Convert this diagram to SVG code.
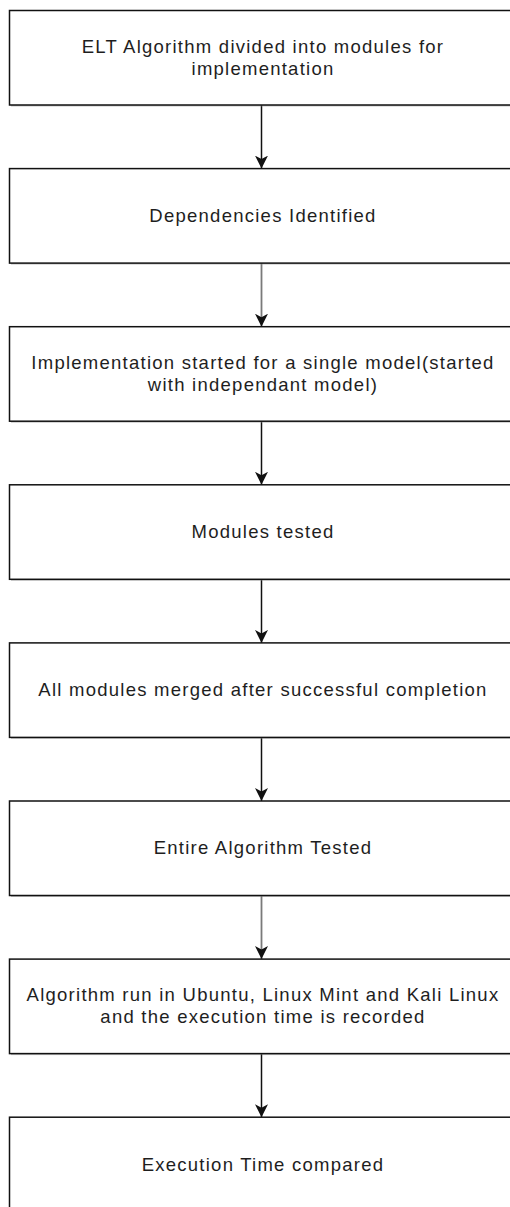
<svg xmlns="http://www.w3.org/2000/svg" width="510" height="1207" viewBox="0 0 510 1207">
  <style>
    .box { fill: #ffffff; stroke: #111111; stroke-width: 1.5; }
    .shadow { fill: #8c8c8c; opacity: 0.5; }
    .lbl { font-family: "Liberation Sans", Arial, Helvetica, sans-serif; font-size: 18.5px; letter-spacing: 1.25px; fill: #1e1e1e; text-anchor: middle; }
    .edge { fill: none; stroke: #111111; stroke-width: 1.5; }
    .edge.grey { stroke: #7a7a7a; stroke-width: 1.8; }
  </style>
  <defs>
    <marker id="head" markerUnits="userSpaceOnUse" markerWidth="16" markerHeight="16" viewBox="0 0 16 16" refX="13" refY="8" orient="auto">
      <path d="M0,1.5 L13,8 L0,14.5 L3.5,8 Z" fill="#111111"/>
    </marker>
    <marker id="head-grey" markerUnits="userSpaceOnUse" markerWidth="16" markerHeight="16" viewBox="0 0 16 16" refX="13" refY="8" orient="auto">
      <path d="M0,1.5 L13,8 L0,14.5 L3.5,8 Z" fill="#111111"/>
    </marker>
  </defs>

  <rect width="510" height="1207" fill="#ffffff"/>

  <!-- connectors between consecutive steps -->
  <g id="connectors">
    <path class="edge" d="M261.5,105 V168.6" marker-end="url(#head)"/>
    <path class="edge grey" d="M261.5,263.1 V326.7" marker-end="url(#head-grey)"/>
    <path class="edge" d="M261.5,421.2 V484.8" marker-end="url(#head)"/>
    <path class="edge" d="M261.5,579.3 V642.9" marker-end="url(#head)"/>
    <path class="edge" d="M261.5,737.4 V801" marker-end="url(#head)"/>
    <path class="edge grey" d="M261.5,895.5 V959.1" marker-end="url(#head-grey)"/>
    <path class="edge" d="M261.5,1053.6 V1117.2" marker-end="url(#head)"/>
  </g>

  <g id="step1">
    <rect class="shadow" x="11" y="12" width="506" height="94.5"/>
    <rect class="box" x="9.5" y="10.5" width="506" height="94.5"/>
    <text class="lbl" x="263" y="52.7">ELT Algorithm divided into modules for</text>
    <text class="lbl" x="263" y="74.7">implementation</text>
  </g>

  <g id="step2">
    <rect class="shadow" x="11" y="170.1" width="506" height="94.5"/>
    <rect class="box" x="9.5" y="168.6" width="506" height="94.5"/>
    <text class="lbl" x="263" y="221.9">Dependencies Identified</text>
  </g>

  <g id="step3">
    <rect class="shadow" x="11" y="328.2" width="506" height="94.5"/>
    <rect class="box" x="9.5" y="326.7" width="506" height="94.5"/>
    <text class="lbl" x="263" y="368.9">Implementation started for a single model(started</text>
    <text class="lbl" x="263" y="390.9">with independant model)</text>
  </g>

  <g id="step4">
    <rect class="shadow" x="11" y="486.3" width="506" height="94.5"/>
    <rect class="box" x="9.5" y="484.8" width="506" height="94.5"/>
    <text class="lbl" x="263" y="538.1">Modules tested</text>
  </g>

  <g id="step5">
    <rect class="shadow" x="11" y="644.4" width="506" height="94.5"/>
    <rect class="box" x="9.5" y="642.9" width="506" height="94.5"/>
    <text class="lbl" x="263" y="696.2">All modules merged after successful completion</text>
  </g>

  <g id="step6">
    <rect class="shadow" x="11" y="802.5" width="506" height="94.5"/>
    <rect class="box" x="9.5" y="801" width="506" height="94.5"/>
    <text class="lbl" x="263" y="854.3">Entire Algorithm Tested</text>
  </g>

  <g id="step7">
    <rect class="shadow" x="11" y="960.6" width="506" height="94.5"/>
    <rect class="box" x="9.5" y="959.1" width="506" height="94.5"/>
    <text class="lbl" x="263" y="1001.3">Algorithm run in Ubuntu, Linux Mint and Kali Linux</text>
    <text class="lbl" x="263" y="1023.3">and the execution time is recorded</text>
  </g>

  <g id="step8">
    <rect class="shadow" x="11" y="1118.7" width="506" height="94.5"/>
    <rect class="box" x="9.5" y="1117.2" width="506" height="94.5"/>
    <text class="lbl" x="263" y="1170.5">Execution Time compared</text>
  </g>
</svg>
